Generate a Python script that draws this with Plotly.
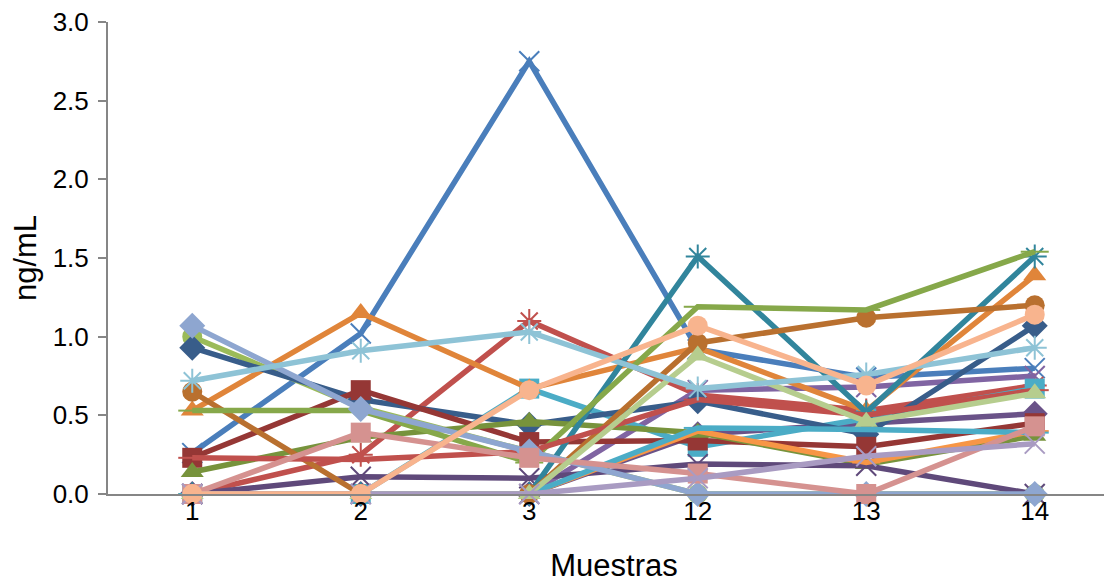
import plotly.graph_objects as go

categories = ["1", "2", "3", "12", "13", "14"]

s_blue_x        = [0.26, 1.02, 2.75, 0.92, 0.74, 0.80]
s_red_star      = [0.00, 0.25, 1.10, 0.63, 0.53, 0.69]
s_green_circle  = [1.00, 0.55, 0.27, 0.00, 0.00, 0.00]
s_purple        = [0.00, 0.00, 0.00, 0.66, 0.68, 0.75]
s_aqua_square   = [0.00, 0.00, 0.67, 0.30, 0.48, 0.67]
s_orange_tri    = [0.53, 1.15, 0.67, 0.93, 0.53, 1.39]
s_dblue_diamond = [0.93, 0.60, 0.44, 0.59, 0.38, 1.07]
s_dred_square   = [0.23, 0.66, 0.33, 0.34, 0.30, 0.45]
s_dgreen_tri    = [0.14, 0.36, 0.46, 0.39, 0.19, 0.37]
s_dpurple_x     = [0.00, 0.11, 0.10, 0.19, 0.18, 0.00]
s_teal_star     = [0.00, 0.00, 0.00, 1.51, 0.52, 1.51]
s_brown_circle  = [0.65, 0.00, 0.00, 0.96, 1.12, 1.20]
s_green_dash    = [0.53, 0.53, 0.20, 1.19, 1.17, 1.54]
s_red_line      = [0.23, 0.22, 0.27, 0.60, 0.50, 0.66]
s_orange_line   = [0.00, 0.00, 0.00, 0.40, 0.20, 0.40]
s_cyan_line     = [0.00, 0.00, 0.00, 0.42, 0.41, 0.39]
s_dpurple_dia   = [0.00, 0.00, 0.00, 0.38, 0.45, 0.51]
s_lblue_diamond = [1.07, 0.54, 0.27, 0.00, 0.00, 0.00]
s_pink_square   = [0.00, 0.39, 0.23, 0.13, 0.00, 0.43]
s_lgreen_tri    = [0.00, 0.00, 0.00, 0.88, 0.46, 0.64]
s_lavender_x    = [0.00, 0.00, 0.00, 0.10, 0.24, 0.32]
s_lightblue_st  = [0.72, 0.91, 1.03, 0.67, 0.76, 0.93]
s_salmon_circle = [0.00, 0.00, 0.66, 1.07, 0.69, 1.14]

series = [
    ("S17", "#6A5288", "diamond", s_dpurple_dia),
    ("S1", "#4A7EBB", "x-thin-open", s_blue_x),
    ("S2", "#C0504D", "asterisk-open", s_red_star),
    ("S3", "#9BBB59", "circle", s_green_circle),
    ("S4", "#8064A2", "x-thin-open", s_purple),
    ("S5", "#4BACC6", "square", s_aqua_square),
    ("S6", "#E0853A", "triangle-up", s_orange_tri),
    ("S7", "#385D8A", "diamond", s_dblue_diamond),
    ("S8", "#953735", "square", s_dred_square),
    ("S9", "#77933C", "triangle-up", s_dgreen_tri),
    ("S10", "#5F497A", "x-thin-open", s_dpurple_x),
    ("S11", "#31859C", "asterisk-open", s_teal_star),
    ("S12", "#B9702F", "circle", s_brown_circle),
    ("S13", "#86A84A", "line-ew-open", s_green_dash),
    ("S14", "#C0504D", "line-ew-open", s_red_line),
    ("S15", "#F79646", "line-ew-open", s_orange_line),
    ("S16", "#4BACC6", "line-ew-open", s_cyan_line),
    ("S18", "#8EA6D0", "diamond", s_lblue_diamond),
    ("S19", "#D59290", "square", s_pink_square),
    ("S20", "#B6CD8E", "triangle-up", s_lgreen_tri),
    ("S21", "#A99BC2", "x-thin-open", s_lavender_x),
    ("S22", "#8EC3D6", "asterisk-open", s_lightblue_st),
    ("S23", "#F8B48E", "circle", s_salmon_circle),
]

fig = go.Figure()
for name, color, sym, vals in series:
    open_sym = sym.endswith("-open")
    fig.add_trace(go.Scatter(
        x=categories, y=vals, name=name, mode="lines+markers",
        line=dict(color=color, width=5.5),
        marker=dict(symbol=sym, color=color, size=20,
                    line=dict(width=2 if open_sym else 0, color=color)),
        showlegend=False, cliponaxis=False,
    ))

axis_col = "#868686"
fig.update_layout(
    width=1112, height=582,
    margin=dict(l=100, r=0, t=14, b=96),
    paper_bgcolor="white", plot_bgcolor="white",
    font=dict(family="Liberation Sans, Arial, sans-serif", color="#000000"),
    xaxis=dict(
        type="category", range=[-0.5, 5.506],
        showline=True, linecolor=axis_col, linewidth=2,
        showgrid=False, ticks="", zeroline=False,
        tickfont=dict(size=26),
        ticklabelstandoff=-7,
        title=dict(text="Muestras", font=dict(size=31), standoff=29),
    ),
    yaxis=dict(
        range=[0, 3], dtick=0.5, tickformat=".1f",
        showline=True, linecolor=axis_col, linewidth=2,
        ticks="outside", ticklen=8, tickcolor=axis_col, tickwidth=2,
        ticklabelstandoff=4, ticklabeloverflow="allow",
        showgrid=False, zeroline=False,
        tickfont=dict(size=26),
        title=dict(text="ng/mL", font=dict(size=31), standoff=12),
    ),
)

fig.write_html("out.html")
